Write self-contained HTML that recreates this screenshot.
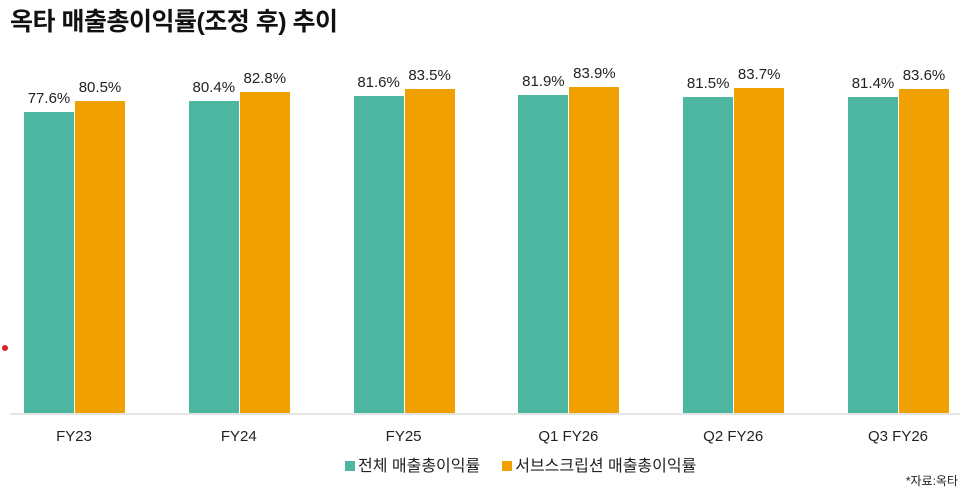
<!DOCTYPE html><html><head><meta charset="utf-8"><style>
body{margin:0;width:964px;height:492px;background:#fff;overflow:hidden;font-family:"Liberation Sans","Noto Sans CJK KR",sans-serif;position:relative}
.t{position:absolute;left:10px;top:2px;font-size:25px;font-weight:bold;color:#111;letter-spacing:-0.5px}
.b{position:absolute;width:50px}
.v{position:absolute;width:60px;text-align:center;font-size:15px;color:#222}
.c{position:absolute;width:140px;text-align:center;font-size:15px;color:#222;top:428px}
</style></head><body>
<div class="t">옥타 매출총이익률(조정 후) 추이</div>
<div style="position:absolute;left:10px;right:4px;top:413px;height:2px;background:#e4e4e4"></div>
<div style="position:absolute;left:2px;top:345px;width:6px;height:6px;border-radius:50%;background:#d22"></div>
<div id="c"></div>
<script>
var d=[["FY23",77.6,80.5],["FY24",80.4,82.8],["FY25",81.6,83.5],["Q1 FY26",81.9,83.9],["Q2 FY26",81.5,83.7],["Q3 FY26",81.4,83.6]];
var h="";d.forEach(function(g,i){var x=24+i*164.8;
[[g[1],"#4db6a0",x],[g[2],"#f0a000",x+51]].forEach(function(s){var top=413-s[0]*3.88;
h+='<div class="b" style="left:'+s[2]+'px;top:'+top+'px;height:'+(413-top)+'px;background:'+s[1]+'"></div>';
h+='<div class="v" style="left:'+(s[2]-5)+'px;top:'+(top-22)+'px">'+s[0].toFixed(1)+'%</div>';});
h+='<div class="c" style="left:'+(x+50-70)+'px">'+g[0]+'</div>';});
document.getElementById("c").innerHTML=h;
</script>
<div style="position:absolute;left:345px;top:452px;font-size:16px;color:#222"><span style="display:inline-block;width:10px;height:10px;background:#4db6a0;margin-right:3px"></span>전체 매출총이익률<span style="display:inline-block;width:10px;height:10px;background:#f0a000;margin:0 3px 0 22px"></span>서브스크립션 매출총이익률</div>
<div style="position:absolute;right:6px;top:472px;font-size:12px;color:#222">*자료:옥타</div>
</body></html>
